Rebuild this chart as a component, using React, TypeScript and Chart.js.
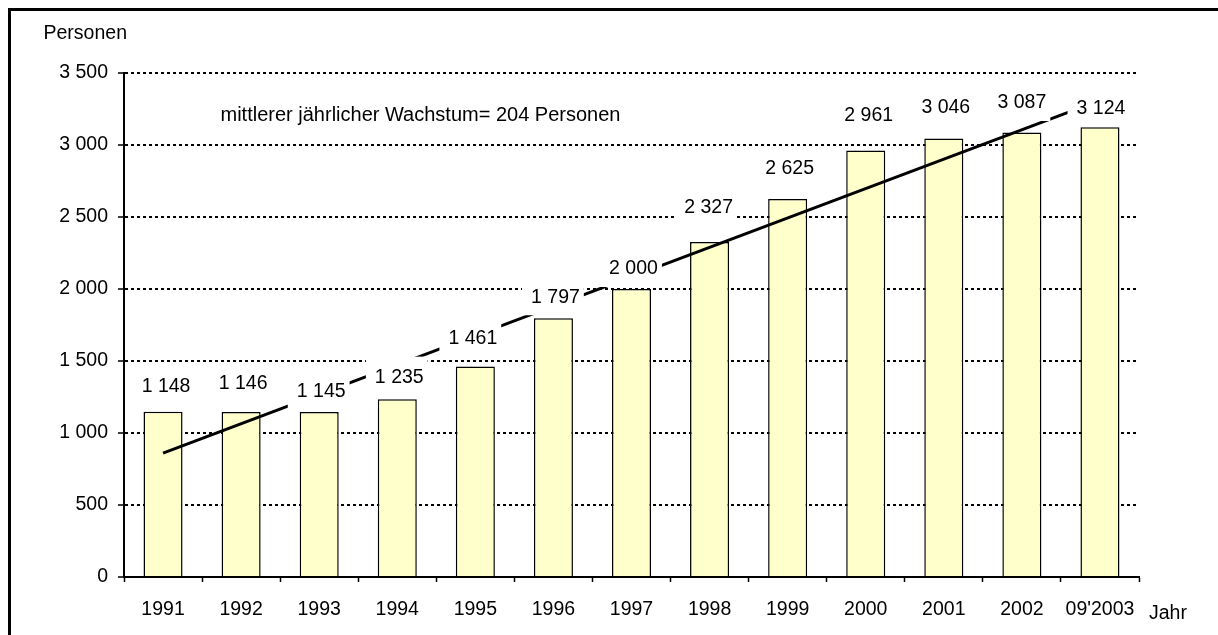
import React, { useEffect, useRef } from "react";
import { Chart, registerables } from "chart.js";

Chart.register(...registerables);

// ---------- data ----------
const categories = ["1991", "1992", "1993", "1994", "1995", "1996", "1997", "1998", "1999", "2000", "2001", "2002", "09'2003"];
const persons = [1148, 1146, 1145, 1235, 1461, 1797, 2000, 2327, 2625, 2961, 3046, 3087, 3124];
// linear trend: value at the first and at the last category
const trendStart = [860];
const trendEnd = [3310];
const yMin = 0;
const yMax = 3500;
const yStep = 500;
const yTitle = "Personen";
const xTitle = "Jahr";
const trendText = "mittlerer jährlicher Wachstum= 204 Personen";

// label nudges (pixels, relative to the bar top centre) as placed in the original
const labelNudge: [number, number][] = [
  [3, -25], [2, -28], [2, -20.5], [2, -21.5], [-2.5, -27.5], [2, -21], [2, -20],
  [-1, -34], [2, -30], [3, -35], [2, -30.5], [0, -29.5], [1, -19],
];

const FONT = "'Liberation Sans', Arial, sans-serif";
const FS = 19.5;

const fmt = (n: number) => String(n).replace(/\B(?=(\d{3})+(?!\d))/g, " ");

const trendData = categories.map((_, i) =>
  i === 0 ? trendStart[0] : i === categories.length - 1 ? trendEnd[0] : null
);

const textPlugin = {
  id: "textPlugin",
  afterDatasetsDraw(chart: any) {
    const ctx = chart.ctx as CanvasRenderingContext2D;
    const meta = chart.getDatasetMeta(0);
    ctx.save();
    ctx.font = `${FS}px ${FONT}`;
    ctx.textAlign = "center";
    ctx.textBaseline = "middle";
    meta.data.forEach((bar: any, i: number) => {
      const [dx, dy] = labelNudge[i];
      const cx = bar.x + dx;
      const cy = bar.y + dy;
      const text = fmt(persons[i]);
      const w = ctx.measureText(text).width;
      ctx.fillStyle = "#ffffff";
      ctx.fillRect(cx - w / 2 - 9, cy - 21, w + 13, 39);
      ctx.fillStyle = "#000000";
      ctx.fillText(text, cx, cy);
    });
    ctx.restore();
  },
  afterDraw(chart: any) {
    const ctx = chart.ctx as CanvasRenderingContext2D;
    const { chartArea } = chart;
    ctx.save();
    ctx.font = `${FS}px ${FONT}`;
    ctx.fillStyle = "#000000";
    ctx.textAlign = "left";
    ctx.textBaseline = "alphabetic";
    ctx.fillText(yTitle, 32.5, chartArea.top - 33.7);
    ctx.fillText(xTitle, chartArea.right + 10, chartArea.bottom + 42.3);
    ctx.font = `20px ${FONT}`;
    ctx.fillText(trendText, chartArea.left + 96.5, chartArea.top + 48);
    ctx.restore();
  },
};

export default function App() {
  const ref = useRef<HTMLCanvasElement>(null);
  useEffect(() => {
    document.documentElement.style.overflow = "hidden";
    document.body.style.overflow = "hidden";
    Chart.defaults.font.family = FONT;
    Chart.defaults.color = "#000";
    const chart = new Chart(ref.current as HTMLCanvasElement, {
      type: "bar",
      data: {
        labels: categories,
        datasets: [
          {
            type: "bar",
            label: "Personen",
            data: persons,
            backgroundColor: "#FFFFCC",
            borderColor: "#000000",
            borderWidth: 1.5,
            barPercentage: 0.5,
            categoryPercentage: 1,
            order: 1,
          } as any,
          {
            type: "line",
            label: "Trend",
            data: trendData,
            spanGaps: true,
            borderColor: "#000000",
            borderWidth: 3,
            pointRadius: 0,
            fill: false,
            order: 0,
          } as any,
        ],
      },
      options: {
        responsive: false,
        animation: false,
        events: [],
        layout: { padding: { top: 62, right: 79, left: 0, bottom: 0 } },
        plugins: {
          legend: { display: false },
          tooltip: { enabled: false },
        },
        scales: {
          x: {
            type: "category",
            position: "bottom",
            offset: true,
            afterFit: (s: any) => { s.height = 58; },
            grid: {
              offset: true,
              drawOnChartArea: false,
              drawTicks: true,
              tickLength: 5,
              tickWidth: 1.5,
              tickColor: "#000",
            },
            border: { display: true, color: "#000", width: 2 },
            ticks: {
              font: { size: FS, family: FONT },
              color: "#000",
              padding: 16,
              autoSkip: false,
              maxRotation: 0,
              minRotation: 0,
            },
          },
          y: {
            type: "linear",
            position: "left",
            min: yMin,
            max: yMax,
            afterFit: (s: any) => { s.width = 113; },
            grid: {
              color: (c: any) => (c.tick && c.tick.value === 0 ? "rgba(0,0,0,0)" : "#000"),
              lineWidth: 2,
              drawTicks: true,
              tickLength: 6,
              tickWidth: 1.5,
              tickColor: "#000",
            },
            border: { display: true, color: "#000", width: 2, dash: [3, 3] },
            ticks: {
              stepSize: yStep,
              font: { size: FS, family: FONT },
              color: "#000",
              padding: 10,
              callback: (v: any) => fmt(Number(v)),
            },
          },
        },
      },
      plugins: [textPlugin],
    } as any);
    return () => chart.destroy();
  }, []);

  return (
    <div
      style={{
        position: "fixed",
        left: 8,
        top: 8,
        width: 1210,
        height: 627,
        borderLeft: "3px solid #000",
        borderTop: "3px solid #000",
        overflow: "hidden",
        background: "#fff",
      }}
    >
      <canvas ref={ref} width={1207} height={624} style={{ display: "block", width: 1207, height: 624 }} />
    </div>
  );
}
